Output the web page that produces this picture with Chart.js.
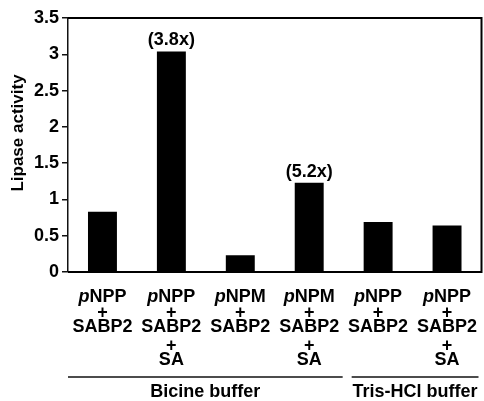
<!DOCTYPE html>
<html>
<head>
<meta charset="utf-8">
<script src="https://cdn.jsdelivr.net/npm/chart.js@4.4.1/dist/chart.umd.min.js"></script>
<style>
  html, body { margin: 0; padding: 0; background: #fff; }
  #wrap { width: 484px; height: 401px; }
</style>
</head>
<body>
<div id="wrap"><canvas id="lipase"></canvas></div>
<script>
// データ
const substrates = ['NPP', 'NPP', 'NPM', 'NPM', 'NPP', 'NPP']; // 先頭にイタリックの p が付く
const withSA = [false, true, false, true, false, true];
const activity = [0.83, 3.04, 0.23, 1.23, 0.69, 0.64];
const foldLabels = ['', '(3.8x)', '', '(5.2x)', '', ''];
const buffers = ['Bicine buffer', 'Tris-HCl buffer'];
const bufferSpans = [[0, 3], [4, 5]]; // 各バッファのカテゴリ範囲
const yTicks = [0, 0.5, 1, 1.5, 2, 2.5, 3, 3.5];

const FONT = '"Liberation Sans", Arial, sans-serif';
const LINE = '#111';

// 枠・ラベルなどを描く
const extras = {
  id: 'extras',
  afterDraw(chart) {
    const c = chart.ctx;
    const a = chart.chartArea;
    const x = chart.scales.x;
    const y = chart.scales.y;
    const step = (a.right - a.left) / activity.length;
    c.save();

    // 枠線（上・右・下）
    c.strokeStyle = '#000';
    c.lineWidth = 2;
    c.beginPath();
    c.moveTo(a.left, a.top);
    c.lineTo(a.right, a.top);
    c.lineTo(a.right, a.bottom);
    c.lineTo(a.left, a.bottom);
    c.stroke();

    c.fillStyle = '#000';
    c.textBaseline = 'middle';

    // 倍率
    c.font = 'bold 18px ' + FONT;
    c.textAlign = 'center';
    foldLabels.forEach((t, i) => {
      if (!t) return;
      c.fillText(t, x.getPixelForValue(i), y.getPixelForValue(activity[i]) - 11);
    });

    // カテゴリのラベル
    substrates.forEach((s, i) => {
      const cx = x.getPixelForValue(i);
      c.font = 'italic bold 18px ' + FONT;
      const wp = c.measureText('p').width;
      c.font = 'bold 18px ' + FONT;
      const ws = c.measureText(s).width;
      const x0 = cx - (wp + ws) / 2;
      c.textAlign = 'left';
      c.font = 'italic bold 18px ' + FONT;
      c.fillText('p', x0, 297);
      c.font = 'bold 18px ' + FONT;
      c.fillText(s, x0 + wp, 297);
      c.textAlign = 'center';
      c.fillText('+', cx, 313);
      c.fillText('SABP2', cx, 327);
      if (withSA[i]) {
        c.fillText('+', cx, 346);
        c.fillText('SA', cx, 360);
      }
    });

    // バッファの線と名前
    c.strokeStyle = LINE;
    c.lineWidth = 1.3;
    buffers.forEach((b, k) => {
      const [s, e] = bufferSpans[k];
      const x1 = a.left + s * step + (k === 0 ? 0 : 8);
      const x2 = a.left + (e + 1) * step - (k === 0 ? 1 : 3);
      c.beginPath();
      c.moveTo(x1, 377);
      c.lineTo(x2, 377);
      c.stroke();
      c.textAlign = 'center';
      c.fillText(b, (x1 + x2) / 2, 392);
    });

    // 縦軸タイトル
    c.translate(18, 133);
    c.rotate(-Math.PI / 2);
    c.font = 'bold 17px ' + FONT;
    c.fillText('Lipase activity', 0, 0);
    c.restore();
  }
};

const ctx = document.getElementById('lipase');
new Chart(ctx, {
  type: 'bar',
  data: {
    labels: substrates.map(s => 'p' + s),
    datasets: [{
      data: activity,
      backgroundColor: '#000',
      borderWidth: 0,
      barPercentage: 0.42,
      categoryPercentage: 1
    }]
  },
  options: {
    responsive: true,
    maintainAspectRatio: false,
    animation: false,
    layout: { padding: { top: 18, right: 2.5, bottom: 129, left: 0 } },
    plugins: { legend: { display: false }, tooltip: { enabled: false } },
    scales: {
      x: { display: false },
      y: {
        min: 0,
        max: 3.5,
        afterBuildTicks: s => { s.ticks = yTicks.map(v => ({ value: v })); },
        afterFit: s => { s.width = 68; },
        ticks: {
          color: '#000',
          padding: 3,
          callback: v => String(v),
          font: { family: FONT, size: 18, weight: 'bold' }
        },
        // 上と下の枠は 0 と 3.5 のグリッド線でも描く
        grid: {
          drawOnChartArea: true,
          tickLength: 6,
          lineWidth: 1.5,
          tickColor: LINE,
          color: c => (c.tick && (c.tick.value === 0 || c.tick.value === 3.5)) ? LINE : 'rgba(0,0,0,0)'
        },
        border: { color: LINE, width: 1.5 }
      }
    }
  },
  plugins: [extras]
});
</script>
</body>
</html>
